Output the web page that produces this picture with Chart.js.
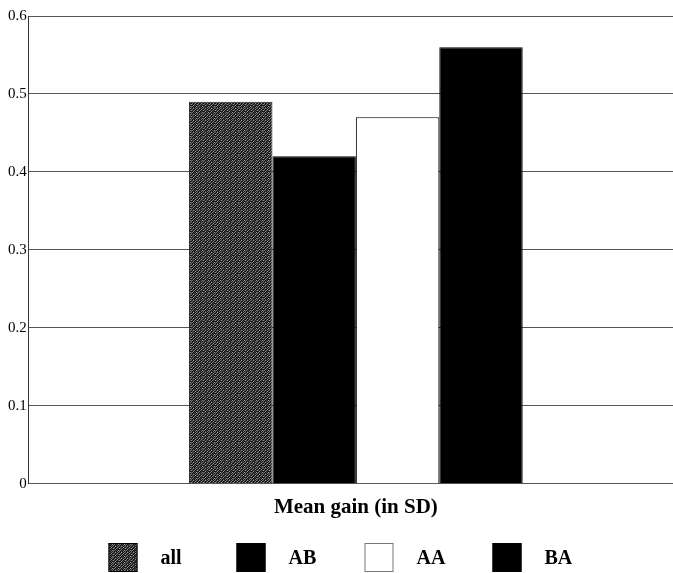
<!DOCTYPE html>
<html><head><meta charset="utf-8">
<script src="https://cdn.jsdelivr.net/npm/chart.js@4.4.1/dist/chart.umd.min.js"></script>
<style>html,body{margin:0;padding:0;background:#fff;overflow:hidden}body{width:673px;height:573px}#wrap{width:683px;height:573px;position:relative}</style>
</head><body><div id="wrap"><canvas id="c"></canvas></div>
<script>
const categories = ['Mean gain (in SD)'];
const seriesNames = ['all', 'AB', 'AA', 'BA'];
const allValues = [0.49];
const abValues = [0.42];
const aaValues = [0.47];
const baValues = [0.56];
const yTickValues = [0, 0.1, 0.2, 0.3, 0.4, 0.5, 0.6];

function makeTexture() {
  const p = document.createElement('canvas');
  p.width = 6; p.height = 6;
  const g = p.getContext('2d');
  const shades = ['#151515', '#3a3a3a', '#6e6e6e', '#9a9a9a'];
  const grid = [
    [0, 3, 1, 0, 2, 1],
    [2, 0, 0, 3, 0, 0],
    [1, 0, 2, 0, 1, 3],
    [0, 3, 0, 1, 0, 0],
    [2, 0, 1, 0, 3, 1],
    [0, 1, 0, 2, 0, 2]
  ];
  for (let y = 0; y < 6; y++) for (let x = 0; x < 6; x++) { g.fillStyle = shades[grid[y][x]]; g.fillRect(x, y, 1, 1); }
  return document.getElementById('c').getContext('2d').createPattern(p, 'repeat');
}
const texture = makeTexture();

const serif = '"Liberation Serif", "Times New Roman", serif';
const visibleWidth = 673;

const legendPlugin = {
  id: 'boxLegend',
  afterDraw(chart) {
    const ctx = chart.ctx;
    const ds = chart.data.datasets;
    const step = 128, box = 29, gap = 23;
    const start = visibleWidth / 2 - 228;
    const top = chart.height - 30;
    ctx.save();
    ds.forEach((d, i) => {
      const x = start + i * step;
      ctx.fillStyle = d.backgroundColor;
      ctx.fillRect(x, top, box, box);
      ctx.lineWidth = 1;
      ctx.strokeStyle = d.legendBorder || '#000';
      ctx.strokeRect(x + 0.5, top + 0.5, box - 1, box - 1);
      ctx.fillStyle = '#000';
      ctx.font = 'bold 20px ' + serif;
      ctx.textBaseline = 'middle';
      ctx.textAlign = 'left';
      ctx.fillText(d.label, x + box + gap, top + box / 2 + 1);
    });
    ctx.restore();
  }
};

new Chart(document.getElementById('c'), {
  type: 'bar',
  data: {
    labels: categories,
    datasets: [
      { label: seriesNames[0], data: allValues, backgroundColor: texture, borderColor: '#222', borderWidth: 1 },
      { label: seriesNames[1], data: abValues, backgroundColor: '#000', borderColor: '#000', borderWidth: 1 },
      { label: seriesNames[2], data: aaValues, backgroundColor: '#fff', borderColor: '#000', borderWidth: 1, legendBorder: '#777' },
      { label: seriesNames[3], data: baValues, backgroundColor: '#000', borderColor: '#000', borderWidth: 1 }
    ]
  },
  options: {
    responsive: true,
    maintainAspectRatio: false,
    animation: false,
    layout: { padding: { left: 6, right: 0, top: 16, bottom: 50 } },
    plugins: { legend: { display: false }, tooltip: { enabled: false } },
    datasets: { bar: { barPercentage: 1, categoryPercentage: 0.51 } },
    scales: {
      x: {
        grid: { display: false },
        border: { display: false },
        ticks: { color: '#000', font: { family: serif, size: 21, weight: 'bold' }, padding: 3 }
      },
      y: {
        min: 0, max: 0.6,
        afterBuildTicks(scale) { scale.ticks = yTickValues.map(v => ({ value: v })); },
        ticks: {
          color: '#000', padding: 2,
          font: { family: serif, size: 15 },
          callback: v => (v === 0 ? '0' : v.toFixed(1))
        },
        grid: { color: '#555', lineWidth: 1, drawTicks: false },
        border: { color: '#333', width: 1 }
      }
    }
  },
  plugins: [legendPlugin]
});
</script>
</body></html>
